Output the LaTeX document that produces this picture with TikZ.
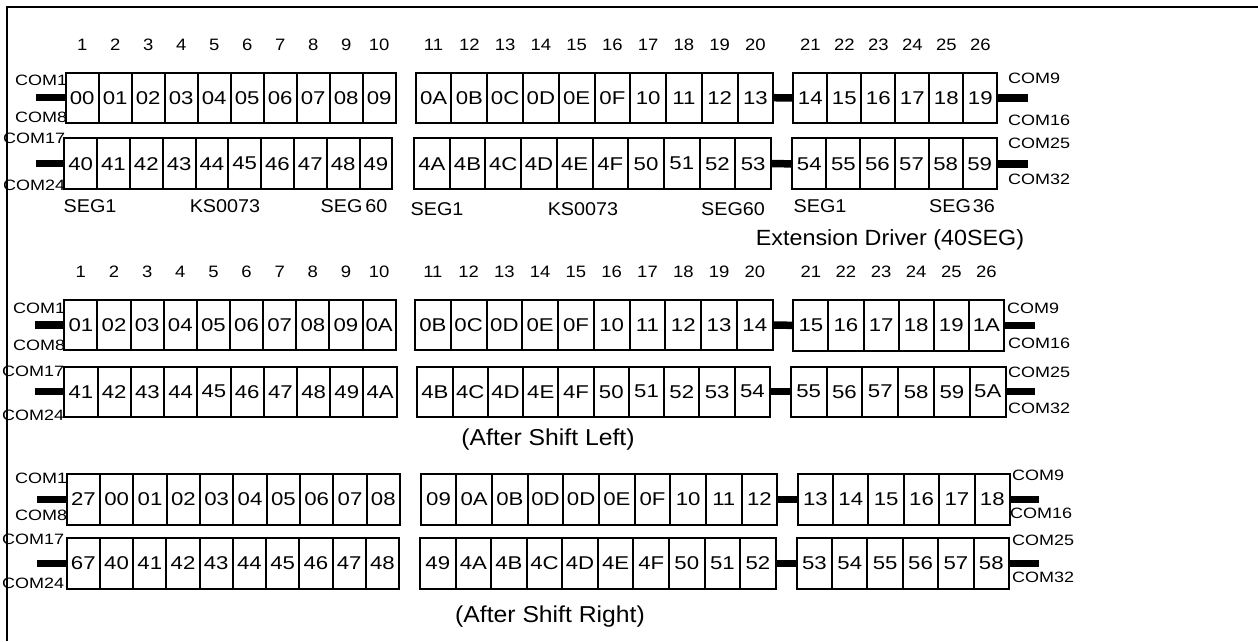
\documentclass[tikz,border=0pt]{standalone}
\usepackage{fontspec}
\setmainfont{Liberation Sans}
\newfontfamily\cellf{Liberation Sans}[FakeStretch=1.2]
\newfontfamily\numf{Liberation Sans}[FakeStretch=1.12]
\newfontfamily\comf{Liberation Sans}[FakeStretch=1.2]
\newfontfamily\segf{Liberation Sans}[FakeStretch=1.07]
\newfontfamily\bigf{Liberation Sans}[FakeStretch=1.06]
\newfontfamily\shiftf{Liberation Sans}[FakeStretch=1.075]
\tikzset{
  cell/.style={draw, line width=2pt, rectangle, inner sep=0pt, outer sep=0pt, anchor=north west,
    font=\cellf\fontsize{18.5pt}{20pt}\selectfont},
  colnum/.style={inner sep=0pt, font=\numf\fontsize{16.5pt}{18pt}\selectfont},
  comlbl/.style={inner sep=0pt, anchor=west, font=\comf\fontsize{15pt}{16pt}\selectfont},
  seglbl/.style={inner sep=0pt, font=\segf\fontsize{18.5pt}{20pt}\selectfont},
  biglbl/.style={inner sep=0pt, font=\bigf\fontsize{22pt}{24pt}\selectfont},
  shiftlbl/.style={inner sep=0pt, font=\shiftf\fontsize{23pt}{24pt}\selectfont},
  bar/.style={line width=7.5pt},
  frame/.style={line width=2pt}
}
% #1 name, #2 count, #3 xl, #4 xr, #5 ytop, #6 ybottom, #7 labels
\newcommand\cellrow[7]{%
  \pgfmathsetmacro\cw{(#4-#3)/#2}%
  \pgfmathsetmacro\ch{#6-#5}%
  \foreach \t [count=\i] in {#7} {
    \node[cell, minimum width=\cw pt, minimum height=\ch pt] (#1-\i) at ({#3+(\i-1)*\cw}, #5) {\t};
  }%
}
\begin{document}
\begin{tikzpicture}[x=1pt, y=-1pt]
\useasboundingbox (0,0) rectangle (1258,641);
% frame
\coordinate (frBL) at (7,641);
\coordinate (frTL) at (7,7);
\coordinate (frTR) at (1258,7);
\draw[frame] (frBL) -- (frTL) -- (frTR);

% ===== top section =====
\cellrow{tA1}{10}{65.7}{395.7}{72.7}{122.7}{00,01,02,03,04,05,06,07,08,09}
\cellrow{tA2}{10}{64.3}{392.3}{138.3}{189}{40,41,42,43,44,45,46,47,48,49}
\cellrow{tB1}{10}{415.7}{773.3}{72.7}{122.7}{0A,0B,0C,0D,0E,0F,10,11,12,13}
\cellrow{tB2}{10}{414}{771}{138.3}{189}{4A,4B,4C,4D,4E,4F,50,51,52,53}
\cellrow{tC1}{6}{793.3}{997.3}{72.7}{123.3}{14,15,16,17,18,19}
\cellrow{tC2}{6}{792.3}{996.7}{138.3}{189.3}{54,55,56,57,58,59}

\coordinate (tL) at (36,0);
\coordinate (tR) at (1028,0);
\draw[bar] (tA1-1.west) -- (tA1-1.west -| tL);
\draw[bar] (tA2-1.west) -- (tA2-1.west -| tL);
\draw[bar] (tB1-10.east) -- (tC1-1.west);
\draw[bar] (tB2-10.east) -- (tC2-1.west);
\draw[bar] (tC1-6.east) -- (tC1-6.east -| tR);
\draw[bar] (tC2-6.east) -- (tC2-6.east -| tR);

\coordinate (tnum) at (0,45);
\foreach \i in {1,...,10} \node[colnum] (tn\i) at (tA1-\i |- tnum) {\i};
\foreach \i [evaluate=\i as \j using int(\i+10)] in {1,...,10} \node[colnum] (tn\j) at (tB1-\i |- tnum) {\j};
\foreach \i [evaluate=\i as \j using int(\i+20)] in {1,...,6} \node[colnum] (tn\j) at (tC1-\i |- tnum) {\j};

\node[comlbl] (tcom1) at (15,80) {COM1};
\node[comlbl] (tcom8) at (15,117) {COM8};
\node[comlbl] (tcom17) at (3,138) {COM17};
\node[comlbl] (tcom24) at (3,185) {COM24};
\node[comlbl] (tcom9) at (1008,78) {COM9};
\node[comlbl] (tcom16) at (1008,120) {COM16};
\node[comlbl] (tcom25) at (1008,143) {COM25};
\node[comlbl] (tcom32) at (1008,179) {COM32};

\node[seglbl] (sa1) at (90,206) {SEG1};
\node[seglbl] (ska) at (225,206) {KS0073};
\node[seglbl] (sa60) at (354,206) {SEG\hspace{3pt}60};
\node[seglbl] (sb1) at (437,209) {SEG1};
\node[seglbl] (skb) at (583,209) {KS0073};
\node[seglbl] (sb60) at (733,209) {SEG60};
\node[seglbl] (sc1) at (820,206) {SEG1};
\node[seglbl] (sc36) at (962,206) {SEG\hspace{2pt}36};
\node[biglbl] (ext) at (890,240) {Extension Driver (40SEG)};

% ===== middle section =====
\cellrow{mA1}{10}{64.3}{395.7}{300}{350}{01,02,03,04,05,06,07,08,09,0A}
\cellrow{mA2}{10}{64.3}{396.7}{366.7}{416.7}{41,42,43,44,45,46,47,48,49,4A}
\cellrow{mB1}{10}{415}{772.7}{300}{350}{0B,0C,0D,0E,0F,10,11,12,13,14}
\cellrow{mB2}{10}{417.3}{770}{366.7}{416.7}{4B,4C,4D,4E,4F,50,51,52,53,54}
\cellrow{mC1}{6}{793.3}{1004}{300}{350.7}{15,16,17,18,19,1A}
\cellrow{mC2}{6}{790.7}{1005.7}{366.7}{416.7}{55,56,57,58,59,5A}

\coordinate (mL) at (35,0);
\coordinate (mR) at (1035,0);
\draw[bar] (mA1-1.west) -- (mA1-1.west -| mL);
\draw[bar] (mA2-1.west) -- (mA2-1.west -| mL);
\draw[bar] (mB1-10.east) -- (mC1-1.west);
\draw[bar] (mB2-10.east) -- (mC2-1.west);
\draw[bar] (mC1-6.east) -- (mC1-6.east -| mR);
\draw[bar] (mC2-6.east) -- (mC2-6.east -| mR);

\coordinate (mnum) at (0,271.7);
\foreach \i in {1,...,10} \node[colnum] (mn\i) at (mA1-\i |- mnum) {\i};
\foreach \i [evaluate=\i as \j using int(\i+10)] in {1,...,10} \node[colnum] (mn\j) at (mB1-\i |- mnum) {\j};
\foreach \i [evaluate=\i as \j using int(\i+20)] in {1,...,6} \node[colnum] (mn\j) at (mC1-\i |- mnum) {\j};

\node[comlbl] (mcom1) at (13,308) {COM1};
\node[comlbl] (mcom8) at (13,345) {COM8};
\node[comlbl] (mcom17) at (2,371) {COM17};
\node[comlbl] (mcom24) at (2,415) {COM24};
\node[comlbl] (mcom9) at (1007,308) {COM9};
\node[comlbl] (mcom16) at (1008,343) {COM16};
\node[comlbl] (mcom25) at (1008,372) {COM25};
\node[comlbl] (mcom32) at (1008,408) {COM32};

\node[shiftlbl] (sleft) at (548,440) {(After Shift Left)};

% ===== bottom section =====
\cellrow{bA1}{10}{66.7}{400}{474}{525}{27,00,01,02,03,04,05,06,07,08}
\cellrow{bA2}{10}{66.7}{399}{537.7}{589}{67,40,41,42,43,44,45,46,47,48}
\cellrow{bB1}{10}{420.7}{777.3}{474}{525}{09,0A,0B,0D,0D,0E,0F,10,11,12}
\cellrow{bB2}{10}{420}{775.7}{537.7}{589}{49,4A,4B,4C,4D,4E,4F,50,51,52}
\cellrow{bC1}{6}{797.7}{1010}{474}{525}{13,14,15,16,17,18}
\cellrow{bC2}{6}{796.7}{1009}{537.7}{589}{53,54,55,56,57,58}

\coordinate (bL) at (37,0);
\coordinate (bR) at (1039,0);
\draw[bar] (bA1-1.west) -- (bA1-1.west -| bL);
\draw[bar] (bA2-1.west) -- (bA2-1.west -| bL);
\draw[bar] (bB1-10.east) -- (bC1-1.west);
\draw[bar] (bB2-10.east) -- (bC2-1.west);
\draw[bar] (bC1-6.east) -- (bC1-6.east -| bR);
\draw[bar] (bC2-6.east) -- (bC2-6.east -| bR);

\node[comlbl] (bcom1) at (15,478) {COM1};
\node[comlbl] (bcom8) at (15,515) {COM8};
\node[comlbl] (bcom17) at (2,539) {COM17};
\node[comlbl] (bcom24) at (2,583) {COM24};
\node[comlbl] (bcom9) at (1012,475) {COM9};
\node[comlbl] (bcom16) at (1010,513) {COM16};
\node[comlbl] (bcom25) at (1012,540) {COM25};
\node[comlbl] (bcom32) at (1012,577) {COM32};

\node[shiftlbl] (sright) at (550,617) {(After Shift Right)};
\end{tikzpicture}
\end{document}
